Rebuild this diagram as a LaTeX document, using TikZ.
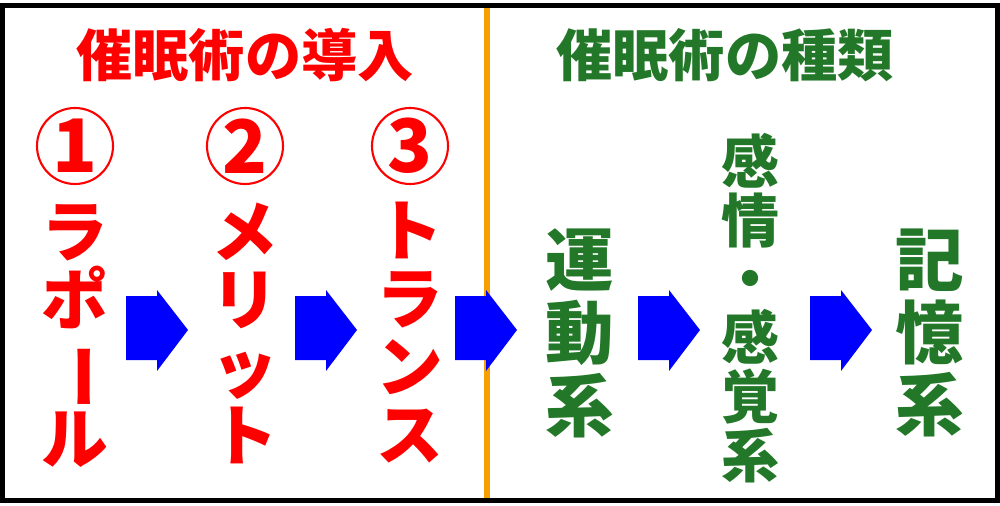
\documentclass[tikz,border=0pt]{standalone}
\usepackage{fontspec}
\setmainfont{Noto Sans CJK JP}
\usepackage{graphicx}
\definecolor{tred}{RGB}{255,0,0}
\definecolor{tgreen}{RGB}{34,120,40}
\definecolor{torange}{RGB}{245,160,0}
\newcommand{\vbar}{\rotatebox[origin=c]{-90}{ー}}
\begin{document}
\begin{tikzpicture}[x=0.02cm,y=-0.02cm,
  barrow/.style={fill=blue,draw=none},
  vred/.style={text=tred,align=center,inner sep=0pt,font=\bfseries\fontsize{38}{38.7}\selectfont},
  vgreen/.style={text=tgreen,align=center,inner sep=0pt,font=\bfseries\fontsize{39}{41.5}\selectfont},
  num/.style={circle,draw=tred,line width=1.2pt,minimum size=76*0.02cm,inner sep=0pt,text=tred,font=\bfseries\fontsize{42}{42}\selectfont},
  ttl/.style={inner sep=0pt,font=\bfseries\fontsize{32}{32}\selectfont}]
\fill[white] (0,0) rectangle (1000,500);
\draw[torange,line width=6*0.569pt] (487,0) -- (487,500);
\draw[black,line width=5*0.569pt] (2.5,2.5) rectangle (997.5,497.5);
\node[ttl,text=tred] (t1) at (245,52) {催眠術の導入};
\node[ttl,text=tgreen] (t2) at (725,52) {催眠術の種類};
\node[num] (n1) at (75,143) {1};
\node[num] (n2) at (245,143) {2};
\node[num] (n3) at (410,143) {3};
\node[vred] (r1) at (75,333) {ラ\\ポ\\\vbar\\ル};
\node[vred] (r2) at (245,330) {メ\\リ\\ッ\\ト};
\node[vred] (r3) at (410,330) {ト\\ラ\\ン\\ス};
\node[vgreen] (g1) at (580,330) {運\\動\\系};
\node[vgreen,font=\bfseries\fontsize{33}{33.5}\selectfont] (g2) at (750,305) {感\\情\\・\\感\\覚\\系};
\node[vgreen] (g3) at (930,330) {記\\憶\\系};
\foreach \x in {126,295,455,638,810}{
  \fill[barrow] (\x,293) -- (\x+31,293) -- (\x+31,287) -- (\x+62,327) -- (\x+31,368) -- (\x+31,357) -- (\x,357) -- cycle;
}
\end{tikzpicture}
\end{document}
